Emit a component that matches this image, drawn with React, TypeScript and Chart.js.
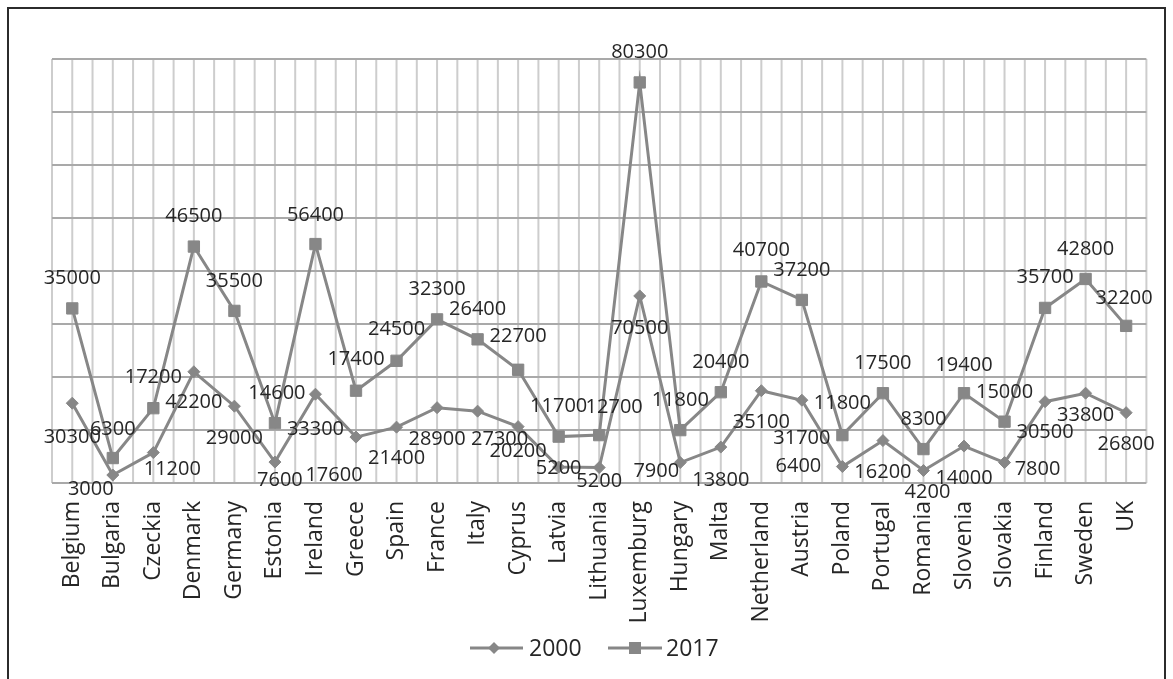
import React, { useEffect, useRef } from 'react';
import { Chart, registerables } from 'chart.js';

Chart.register(...registerables);

const categories = [
  'Belgium', 'Bulgaria', 'Czeckia', 'Denmark', 'Germany', 'Estonia', 'Ireland', 'Greece', 'Spain',
  'France', 'Italy', 'Cyprus', 'Latvia', 'Lithuania', 'Luxemburg', 'Hungary', 'Malta', 'Netherland',
  'Austria', 'Poland', 'Portugal', 'Romania', 'Slovenia', 'Slovakia', 'Finland', 'Sweden', 'UK',
];

const values2000 = [
  16000, 1600, 6100, 22300, 15400, 4200, 17800, 9200, 11200, 15100, 14400, 11300, 3200, 3100,
  37500, 4100, 7200, 18500, 16600, 3300, 8500, 2500, 7400, 4100, 16300, 18000, 14100,
];

const values2017 = [
  35000, 5000, 15000, 47400, 34500, 12000, 47900, 18500, 24500, 32800, 28800, 22700, 9300, 9600,
  80300, 10600, 18200, 40400, 36700, 9600, 18000, 6800, 18000, 12300, 35100, 40900, 31500,
];

const labels2000 = [
  '30300', '3000', '11200', '42200', '29000', '7600', '33300', '17600', '21400', '28900', '27300',
  '20200', '5200', '5200', '70500', '7900', '13800', '35100', '31700', '6400', '16200', '4200',
  '14000', '7800', '30500', '33800', '26800',
];

const labels2017 = [
  '35000', '6300', '17200', '46500', '35500', '14600', '56400', '17400', '24500', '32300', '26400',
  '22700', '11700', '12700', '80300', '11800', '20400', '40700', '37200', '11800', '17500', '8300',
  '19400', '15000', '35700', '42800', '32200',
];

const yMax = 85000;
const yStep = 10625;

// label nudges (px) relative to the point
const nudge2000X = [0, -22, 19, 0, 0, 5, 0, -22, 0, 0, 22, 0, 0, 0, 0, -24, 0, 0, 0, -44, 0, 4, 0, 33, 0, 0, 0];
const nudge2000Y = [34, 14, 17, 31, 32, 18, 35, 38, 31, 32, 28, 25, 1, 14, 32, 9, 33, 32, 38, 0, 32, 22, 32, 7, 31, 22, 32];
const nudge2017X = [0, 0, 0, 0, 0, 2, 0, 0, 0, 0, 0, 0, 0, 15, 0, 0, 0, 0, 0, 0, 0, 0, 0, 0, 0, 0, -2];
const nudge2017Y = [-30, -29, -31, -30, -30, -30, -29, -31, -31, -30, -30, -33, -30, -28, -30, -30, -30, -31, -30, -32, -30, -30, -28, -29, -31, -30, -28];

const LINE = '#878787';
const TEXT = '#262626';
const FONT = '"Open Sans", sans-serif';

const halfGridPlugin = {
  id: 'halfGrid',
  beforeDatasetsDraw(chart: any) {
    const { ctx, chartArea, scales } = chart;
    const xs = scales.x;
    const step = xs.getPixelForValue(1) - xs.getPixelForValue(0);
    const start = xs.getPixelForValue(0) - step / 2;
    ctx.save();
    ctx.strokeStyle = '#cdcdcd';
    ctx.lineWidth = 2;
    for (let k = 0; k <= categories.length * 2; k++) {
      const x = start + (k * step) / 2;
      ctx.beginPath();
      ctx.moveTo(x, chartArea.top);
      ctx.lineTo(x, chartArea.bottom);
      ctx.stroke();
    }
    // redraw horizontal lines on top for darker look
    const ys = scales.y;
    ctx.strokeStyle = '#a9a9a9';
    for (let v = 0; v <= yMax; v += yStep) {
      const y = ys.getPixelForValue(v);
      ctx.beginPath();
      ctx.moveTo(chartArea.left, y);
      ctx.lineTo(chartArea.right, y);
      ctx.stroke();
    }
    ctx.restore();
  },
};

const dataLabelPlugin = {
  id: 'dataLabels',
  afterDatasetsDraw(chart: any) {
    const { ctx } = chart;
    ctx.save();
    ctx.font = `20px ${FONT}`;
    ctx.fillStyle = TEXT;
    ctx.textAlign = 'center';
    ctx.textBaseline = 'middle';
    const sets = [
      { idx: 0, labels: labels2000, dx: nudge2000X, dy: nudge2000Y },
      { idx: 1, labels: labels2017, dx: nudge2017X, dy: nudge2017Y },
    ];
    sets.forEach((s) => {
      const meta = chart.getDatasetMeta(s.idx);
      meta.data.forEach((el: any, i: number) => {
        ctx.fillText(s.labels[i], el.x + s.dx[i], el.y + s.dy[i]);
      });
    });
    ctx.restore();
  },
};

const legendPlugin = {
  id: 'customLegend',
  afterDraw(chart: any) {
    const { ctx } = chart;
    const y = 639;
    ctx.save();
    ctx.strokeStyle = LINE;
    ctx.fillStyle = LINE;
    ctx.lineWidth = 3;
    // 2000
    ctx.beginPath();
    ctx.moveTo(461, y);
    ctx.lineTo(514, y);
    ctx.stroke();
    ctx.beginPath();
    ctx.moveTo(485, y - 6);
    ctx.lineTo(491, y);
    ctx.lineTo(485, y + 6);
    ctx.lineTo(479, y);
    ctx.closePath();
    ctx.fill();
    // 2017
    ctx.beginPath();
    ctx.moveTo(599, y);
    ctx.lineTo(653, y);
    ctx.stroke();
    ctx.fillRect(626 - 6, y - 6, 12, 12);
    ctx.fillStyle = TEXT;
    ctx.font = `23px ${FONT}`;
    ctx.textAlign = 'left';
    ctx.textBaseline = 'middle';
    ctx.fillText('2000', 520, y + 1);
    ctx.fillText('2017', 657, y + 1);
    ctx.restore();
  },
};

export default function App() {
  const ref = useRef<HTMLCanvasElement | null>(null);

  useEffect(() => {
    if (!ref.current) return;
    const chart = new Chart(ref.current, {
      type: 'line',
      data: {
        labels: categories,
        datasets: [
          {
            label: '2000',
            data: values2000,
            borderColor: LINE,
            backgroundColor: LINE,
            borderWidth: 3,
            pointStyle: 'rectRot',
            pointRadius: 6,
            pointBorderWidth: 1,
            pointBackgroundColor: LINE,
            pointBorderColor: LINE,
            tension: 0,
          },
          {
            label: '2017',
            data: values2017,
            borderColor: LINE,
            backgroundColor: LINE,
            borderWidth: 3,
            pointStyle: 'rect',
            pointRadius: 8,
            pointBorderWidth: 1,
            pointBackgroundColor: LINE,
            pointBorderColor: LINE,
            tension: 0,
          },
        ],
      },
      options: {
        animation: false,
        responsive: false,
        maintainAspectRatio: false,
        layout: { padding: { left: 43, right: 14.5, top: 50, bottom: 0 } },
        plugins: {
          legend: { display: false },
          tooltip: { enabled: false },
        },
        scales: {
          x: {
            type: 'category',
            offset: true,
            grid: { display: false },
            border: { display: false },
            ticks: {
              autoSkip: false,
              minRotation: 90,
              maxRotation: 90,
              padding: 10,
              color: TEXT,
              font: { family: FONT, size: 23 },
            },
            afterFit: (s: any) => {
              s.height = 196;
            },
          },
          y: {
            min: 0,
            max: yMax,
            grid: { display: false },
            border: { display: false },
            ticks: { display: false, stepSize: yStep },
            afterFit: (s: any) => {
              s.width = 0;
            },
          },
        },
      },
      plugins: [halfGridPlugin, dataLabelPlugin, legendPlugin],
    });
    return () => chart.destroy();
  }, []);

  return (
    <div
      style={{
        position: 'fixed',
        left: 7,
        top: 7,
        width: 1159,
        height: 700,
        boxSizing: 'border-box',
        borderTop: '2px solid #2b2b2b',
        borderLeft: '2px solid #2b2b2b',
        borderRight: '2px solid #2b2b2b',
        background: '#fff',
      }}
    >
      <canvas ref={ref} width={1155} height={670} style={{ display: 'block' }} />
    </div>
  );
}
